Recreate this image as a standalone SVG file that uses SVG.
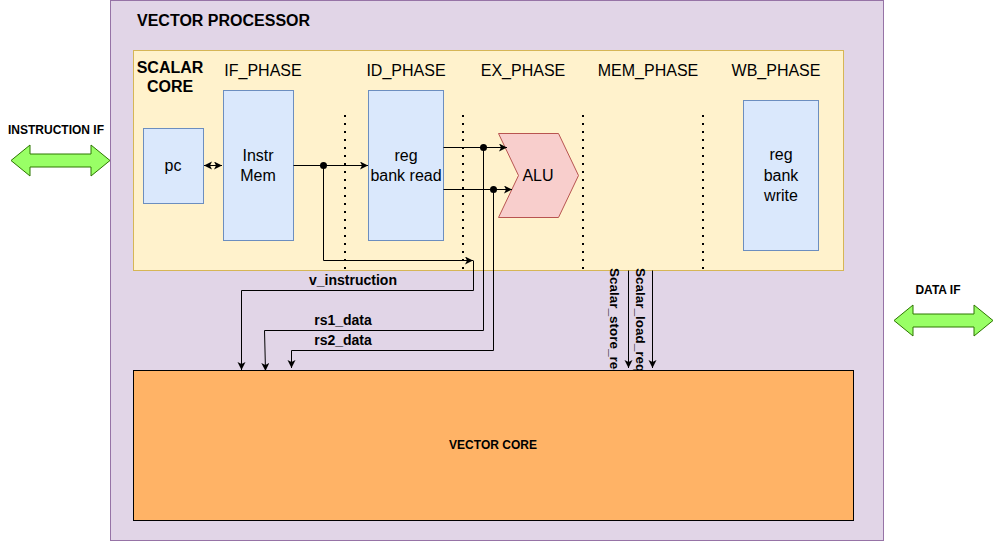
<svg xmlns="http://www.w3.org/2000/svg" width="994" height="541" viewBox="0 0 994 541">
<style>
text{font-family:"Liberation Sans",Arial,sans-serif;fill:#000}
.b{font-weight:bold}
.t16{font-size:16px}
.t14{font-size:14px}
.t12{font-size:12px}
.rt{font-size:13.5px;font-weight:bold}
.box{fill:#dae8fc;stroke:#6c8ebf;stroke-width:1}
.ln{fill:none;stroke:#000;stroke-width:1}
.dot{fill:none;stroke:#000;stroke-width:2;stroke-dasharray:2 6}
.big{fill:#99ff66;stroke:#2d7600;stroke-width:1}
</style>
<defs>
<marker id="ah" markerUnits="userSpaceOnUse" markerWidth="10" markerHeight="10" refX="8" refY="4" orient="auto-start-reverse">
<path d="M0,0 L8,4 L0,8 L2,4 Z" fill="#000"/>
</marker>
</defs>
<g id="vector-processor">
<rect x="110.5" y="0.5" width="773" height="540" fill="#e1d5e7" stroke="#9673a6"/>
<text class="b t16" x="137" y="26">VECTOR PROCESSOR</text>
</g>
<g id="scalar-core">
<rect x="133.5" y="50.5" width="710" height="220" fill="#fff2cc" stroke="#d6b656"/>
<text class="b t16" x="170" y="73" text-anchor="middle">SCALAR</text>
<text class="b t16" x="170" y="92" text-anchor="middle">CORE</text>
</g>
<g id="phases" class="t16">
<text x="263" y="76" text-anchor="middle">IF_PHASE</text>
<text x="406" y="76" text-anchor="middle">ID_PHASE</text>
<text x="523" y="76" text-anchor="middle">EX_PHASE</text>
<text x="648" y="76" text-anchor="middle">MEM_PHASE</text>
<text x="776" y="76" text-anchor="middle">WB_PHASE</text>
</g>
<g id="separators">
<line class="dot" x1="345" y1="115" x2="345" y2="270"/>
<line class="dot" x1="463" y1="115" x2="463" y2="270"/>
<line class="dot" x1="583" y1="115" x2="583" y2="270"/>
<line class="dot" x1="703" y1="115" x2="703" y2="270"/>
</g>
<g id="pc">
<rect class="box" x="143.5" y="128.5" width="60" height="75"/>
<text class="t16" x="173" y="171" text-anchor="middle">pc</text>
</g>
<g id="instr-mem">
<rect class="box" x="223.5" y="90.5" width="70" height="150"/>
<text class="t16" x="258" y="161" text-anchor="middle">Instr</text>
<text class="t16" x="258" y="181" text-anchor="middle">Mem</text>
</g>
<g id="reg-bank-read">
<rect class="box" x="368.5" y="90.5" width="75" height="150"/>
<text class="t16" x="406" y="161" text-anchor="middle">reg</text>
<text class="t16" x="406" y="181" text-anchor="middle">bank read</text>
</g>
<g id="alu">
<path d="M498.5,133.5 L558.5,133.5 L578.5,175.5 L558.5,217.5 L498.5,217.5 L518.5,175.5 Z" fill="#f8cecc" stroke="#b85450"/>
<text class="t16" x="538" y="181" text-anchor="middle">ALU</text>
</g>
<g id="reg-bank-write">
<rect class="box" x="743.5" y="100.5" width="75" height="150"/>
<text class="t16" x="781" y="160" text-anchor="middle">reg</text>
<text class="t16" x="781" y="181" text-anchor="middle">bank</text>
<text class="t16" x="781" y="201" text-anchor="middle">write</text>
</g>
<g id="connectors">
<path class="ln" d="M204,165.5 L222,165.5" marker-start="url(#ah)" marker-end="url(#ah)"/>
<path class="ln" d="M293.5,165.5 L368,165.5" marker-end="url(#ah)"/>
<path class="ln" d="M323.5,165.5 L323.5,260.5 L473,260.5" marker-end="url(#ah)"/>
<path class="ln" d="M473.5,260.5 L473.5,290.5 L241.5,290.5 L241.5,370" marker-end="url(#ah)"/>
<path class="ln" d="M443.5,147.5 L507,147.5" marker-end="url(#ah)"/>
<path class="ln" d="M483.5,147.5 L483.5,330.5 L264.5,330.5 L265.5,371" marker-end="url(#ah)"/>
<path class="ln" d="M443.5,189.5 L512,189.5" marker-end="url(#ah)"/>
<path class="ln" d="M493.5,189.5 L493.5,350.5 L291.5,350.5 L291.5,368" marker-end="url(#ah)"/>
<path class="ln" d="M628.5,270.5 L628.5,368" marker-end="url(#ah)"/>
<path class="ln" d="M652.5,270.5 L652.5,368" marker-end="url(#ah)"/>
<circle cx="323.5" cy="165.5" r="3.5"/>
<circle cx="483.5" cy="147.5" r="3.5"/>
<circle cx="493.5" cy="189.5" r="3.5"/>
<text class="b t14" x="353" y="285" text-anchor="middle">v_instruction</text>
<text class="b t14" x="343" y="325" text-anchor="middle">rs1_data</text>
<text class="b t14" x="343" y="345" text-anchor="middle">rs2_data</text>
<text class="rt" transform="translate(609.5,268) rotate(90)">Scalar_store_req</text>
<text class="rt" transform="translate(635.5,268) rotate(90)">Scalar_load_req</text>
</g>
<g id="vector-core">
<rect x="133.5" y="370.5" width="720" height="150" fill="#ffb366" stroke="#000"/>
<text class="b t12" x="493" y="449" text-anchor="middle">VECTOR CORE</text>
</g>
<g id="instruction-if">
<text class="b t12" x="56" y="134" text-anchor="middle">INSTRUCTION IF</text>
<path class="big" d="M11,160.5 L30,145 L30,154 L91,154 L91,145 L110,160.5 L91,176 L91,167 L30,167 L30,176 Z"/>
</g>
<g id="data-if">
<text class="b t12" x="938" y="294" text-anchor="middle">DATA IF</text>
<path class="big" d="M894,320.5 L913,305 L913,314 L974,314 L974,305 L993,320.5 L974,336 L974,327 L913,327 L913,336 Z"/>
</g>
</svg>
